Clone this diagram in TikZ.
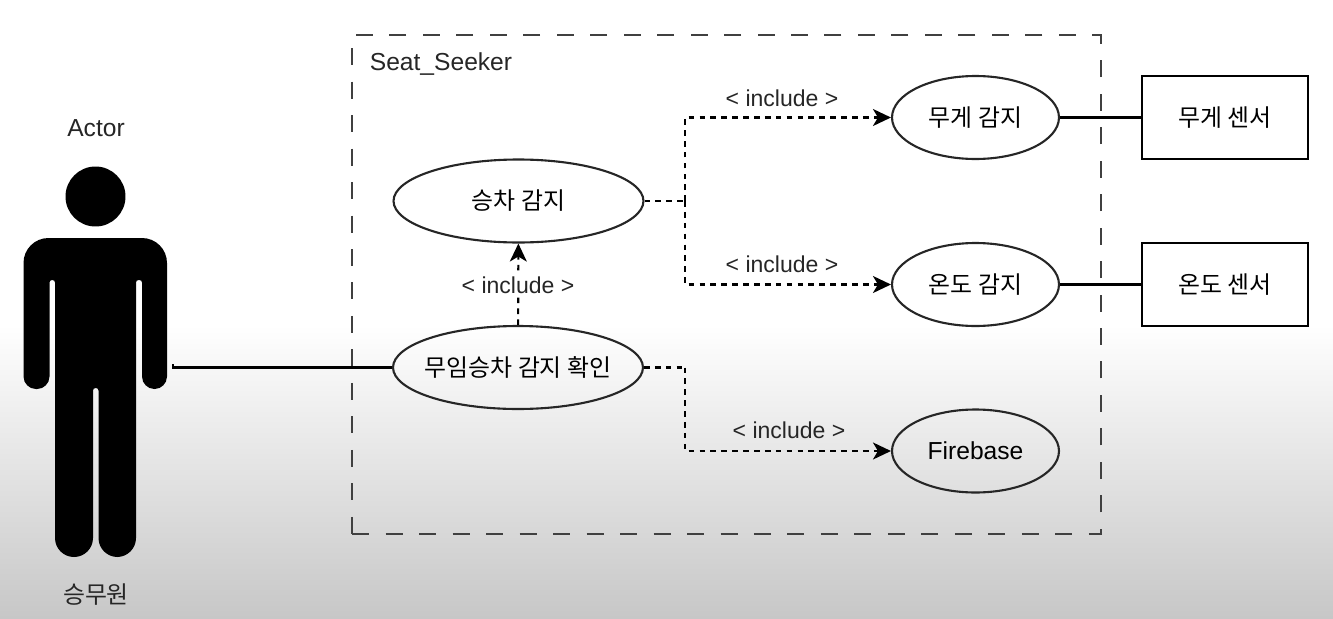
\documentclass[tikz,border=0pt]{standalone}
\usepackage{fontspec}
\setmainfont{Liberation Sans}
\newfontfamily\krfont{Noto Sans CJK KR}
\usetikzlibrary{shapes.geometric, arrows.meta}
\tikzset{
  ucusecase/.style={ellipse, draw=black!85, line width=1.2pt, inner ysep=0pt, inner xsep=-0.12cm,
                    minimum width=5cm, minimum height=1.66cm,
                    font=\fontsize{13.6}{16}\krfont},
  ucsmall/.style={ucusecase, minimum width=3.34cm},
  ucdevice/.style={rectangle, draw=black, line width=1.2pt, inner sep=0pt,
                   minimum width=3.32cm, minimum height=1.66cm,
                   font=\fontsize{13.6}{16}\krfont},
  ucnote/.style={font=\fontsize{14}{16}\selectfont, text=black!85},
  ucinclude/.style={font=\fontsize{13.1}{16}\selectfont, text=black!85, inner sep=1pt},
  uclink/.style={draw=black, line width=1.2pt},
  ucdashed/.style={uclink, dash pattern=on 3.2pt off 3pt},
  ucarrow/.style={ucdashed, -{Stealth[length=0.36cm, width=0.34cm, inset=0.1cm]}},
  ucsystem/.style={draw=black!75, line width=1.2pt, dash pattern=on 0.34cm off 0.33cm}
}
\begin{document}
\begin{tikzpicture}[x=0.02cm, y=-0.02cm]
  \useasboundingbox (0, 0) rectangle (1333, 619);
  \shade[top color=white, bottom color=black!22, draw=none] (0, 325) rectangle (1333, 619);

  % The actor figure.
  \fill (95.5, 196.5) circle [radius=0.6cm];
  \fill[rounded corners=0.5cm] (23.5, 238) -- (167, 238)
    [rounded corners=0.25cm] -- (167, 389) -- (142, 389)
    [rounded corners=0.05cm] -- (142, 280) -- (136, 280)
    [rounded corners=0.38cm] -- (136, 557) -- (98.5, 557)
    [rounded corners=0.05cm] -- (98.5, 388) -- (93, 388)
    [rounded corners=0.38cm] -- (93, 557) -- (55, 557)
    [rounded corners=0.05cm] -- (55, 280) -- (49.5, 280)
    [rounded corners=0.25cm] -- (49.5, 389) -- (23.5, 389)
    [rounded corners=0.5cm] -- cycle;
  \node[ucnote] (actorname) at (96, 128) {Actor};
  \node[ucnote, font=\fontsize{13.6}{16}\krfont] (crewname) at (96, 595) {승무원};
  \coordinate (actorhand) at (173, 364);

  \node[ucsystem, minimum width=14.98cm, minimum height=9.98cm] (system) at (726.5, 284.5) {};
  \node[ucnote] (systemname) at (441, 64) {Seat\_Seeker};

  \node[ucusecase] (ride)  at (518.5, 201) {승차 감지};
  \node[ucusecase] (check) at (518, 367.5) {무임승차 감지 확인};
  \node[ucsmall] (weight)   at (975.5, 117.5) {무게 감지};
  \node[ucsmall] (temp)     at (975.5, 284.5) {온도 감지};
  \node[ucsmall, font=\fontsize{14}{16}\selectfont] (firebase) at (975.5, 451) {Firebase};
  \node[ucdevice] (weightsensor) at (1225, 117.5) {무게 센서};
  \node[ucdevice] (tempsensor)   at (1225, 284.5) {온도 센서};

  \coordinate (ridejoin)  at (685, 201);
  \coordinate (checkjoin) at (685, 367.5);

  \draw[uclink] (actorhand) |- (check.west);
  \foreach \usecase/\sensor in {weight/weightsensor, temp/tempsensor} {
    \draw[uclink] (\usecase) -- (\sensor);
  }
  \draw[ucarrow] (check) -- (ride);
  \draw[ucdashed] (ride.east) -- (ridejoin);
  \draw[ucdashed] (check.east) -- (checkjoin);
  \foreach \start/\goal in {ridejoin/weight, ridejoin/temp, checkjoin/firebase} {
    \draw[ucarrow] (\start) |- (\goal.west);
  }

  \node[ucinclude] (includeweight) at (782, 98)  {< include >};
  \node[ucinclude] (includetemp)   at (782, 264) {< include >};
  \node[ucinclude, fill=white] (includeride) at (518, 285) {< include >};
  \node[ucinclude] (includebase) at (789, 430) {< include >};
\end{tikzpicture}
\end{document}
